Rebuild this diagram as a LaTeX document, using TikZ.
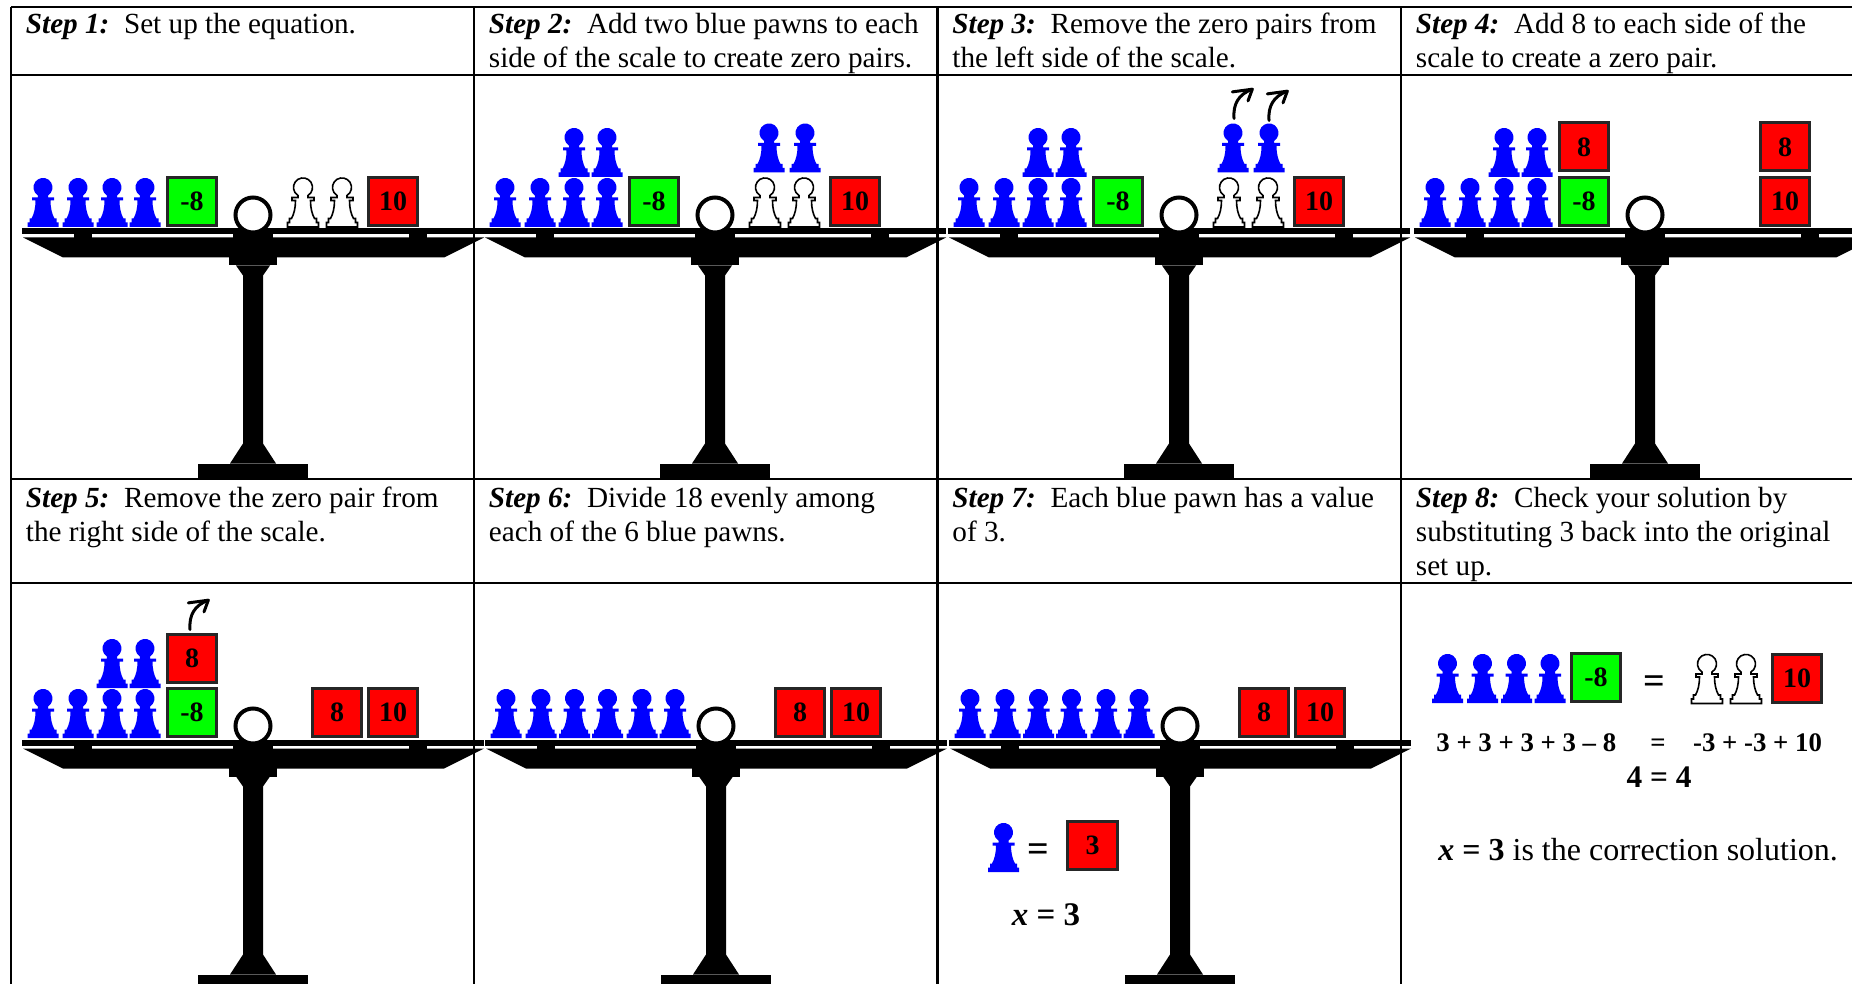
\documentclass[tikz,border=0pt]{standalone}
\usepackage{fontspec}
\setmainfont{Liberation Serif}
\usetikzlibrary{arrows.meta}

\definecolor{pawnblue}{RGB}{0,0,255}
\definecolor{tilegreen}{RGB}{0,255,0}
\definecolor{tilered}{RGB}{255,0,0}

\tikzset{
  grid/.style={line width=1.2pt},
  stephead/.style={anchor=base west, inner sep=0pt, font=\fontsize{14.6}{17}\selectfont},
  tile/.style={draw=black!85, line width=1.5pt, minimum width=24.8pt, minimum height=24pt,
    inner sep=0pt, font=\fontsize{14}{16}\selectfont\bfseries},
  greentile/.style={tile, fill=tilegreen},
  redtile/.style={tile, fill=tilered},
  bluepawn/.style={fill=pawnblue},
  whitepawn/.style={fill=white, draw=black, line width=0.8pt},
  eqtext/.style={inner sep=0pt, font=\fontsize{13.4}{16}\selectfont\bfseries},
  bigeq/.style={inner sep=0pt, font=\fontsize{19}{20}\selectfont\bfseries},
  % pawn silhouette, origin at the middle of its base
  pawnshape/.pic={
    \path[pic actions] (-15.5,0) -- (15.5,0) -- (15.5,-4.5) -- (13.5,-4.5) -- (13.5,-8.5) -- (11.5,-8.5)
      .. controls (9,-13) and (7.5,-19) .. (7.5,-26.5) -- (11,-26.5) -- (11,-29.5) -- (5,-29.5) -- (5,-31.5)
      arc[start angle=-58.2, end angle=238.2, radius=4.75pt] -- (-5,-29.5) -- (-11,-29.5) -- (-11,-26.5) -- (-7.5,-26.5)
      .. controls (-7.5,-19) and (-9,-13) .. (-11.5,-8.5) -- (-13.5,-8.5) -- (-13.5,-4.5) -- (-15.5,-4.5) -- cycle;
  },
  % balance scale, origin at the middle of the top of the beam
  balance/.pic={
    \fill (-231,0) rectangle (231,6);
    \fill (-179,5) rectangle (-161,10);
    \fill (156,5) rectangle (174,10);
    \fill (-20,5) rectangle (20,10);
    \fill (-230,9) -- (231,9) -- (191,29) -- (-190,29) -- cycle;
    \fill (-24,28) rectangle (24,37);
    \fill (-17,37) -- (17,37) -- (10,47) -- (10,215) -- (23,235) -- (-23,235) -- (-10,215) -- (-10,47) -- cycle;
    \fill (-55,235) rectangle (55,251);
    \draw[line width=2pt, fill=white] (0,-13.5) circle[radius=8.75pt];
  },
  % curved "take away" arrow, origin at its tail
  lift/.pic={
    \draw[line width=1.5pt, line cap=round, line join=round] (0,0) .. controls (-1,-14) and (4,-24) .. (18.3,-29.3);
    \draw[line width=1.5pt, line cap=round, line join=round] (-1.7,-26.6) -- (18.3,-29.3) -- (14,-17.6);
  },
}

\begin{document}
\begin{tikzpicture}[x=0.5pt,y=-0.5pt]
\useasboundingbox (0,0) rectangle (1852,984);

% ---------- step captions ----------
\node[stephead] (h1) at (25.5,34) {\bfseries\itshape Step 1:\hspace{0.5em}\normalfont Set up the equation.};
\node[stephead] (h2a) at (488.5,34) {\bfseries\itshape Step 2:\hspace{0.5em}\normalfont Add two blue pawns to each};
\node[stephead] (h2b) at (488.5,68) {side of the scale to create zero pairs.};
\node[stephead] (h3a) at (952,34) {\bfseries\itshape Step 3:\hspace{0.5em}\normalfont Remove the zero pairs from};
\node[stephead] (h3b) at (952,68) {the left side of the scale.};
\node[stephead] (h4a) at (1415.5,34) {\bfseries\itshape Step 4:\hspace{0.5em}\normalfont Add 8 to each side of the};
\node[stephead] (h4b) at (1415.5,68) {scale to create a zero pair.};

\node[stephead] (h5a) at (25.5,507) {\bfseries\itshape Step 5:\hspace{0.5em}\normalfont Remove the zero pair from};
\node[stephead] (h5b) at (25.5,541) {the right side of the scale.};
\node[stephead] (h6a) at (488.5,507) {\bfseries\itshape Step 6:\hspace{0.5em}\normalfont Divide 18 evenly among};
\node[stephead] (h6b) at (488.5,541) {each of the 6 blue pawns.};
\node[stephead] (h7a) at (952,507) {\bfseries\itshape Step 7:\hspace{0.5em}\normalfont Each blue pawn has a value};
\node[stephead] (h7b) at (952,541) {of 3.};
\node[stephead] (h8a) at (1415.5,507) {\bfseries\itshape Step 8:\hspace{0.5em}\normalfont Check your solution by};
\node[stephead] (h8b) at (1415.5,541) {substituting 3 back into the original};
\node[stephead] (h8c) at (1415.5,575) {set up.};

% ---------- step 1 ----------
\begin{scope}[shift={(253,228.5)}]
  \pic {balance};
  \foreach \px in {-210,-175,-141,-108} \pic[bluepawn] at (\px,-1.5) {pawnshape};
  \node[greentile] (s1g) at (-61,-27) {-8};
  \foreach \px in {50,89} \pic[whitepawn] at (\px,-1.5) {pawnshape};
  \node[redtile] (s1r) at (140,-27) {10};
\end{scope}

% ---------- step 2 ----------
\begin{scope}[shift={(715,228.5)}]
  \pic {balance};
  \foreach \px in {-210,-175,-141,-108} \pic[bluepawn] at (\px,-1.5) {pawnshape};
  \foreach \px in {-141,-108} \pic[bluepawn] at (\px,-51.5) {pawnshape};
  \node[greentile] (s2g) at (-61,-27) {-8};
  \foreach \px in {50,89} \pic[whitepawn] at (\px,-1.5) {pawnshape};
  \foreach \px in {54,90} \pic[bluepawn] at (\px,-56) {pawnshape};
  \node[redtile] (s2r) at (140,-27) {10};
\end{scope}

% ---------- step 3 ----------
\begin{scope}[shift={(1179,228.5)}]
  \pic {balance};
  \foreach \px in {-210,-175,-141,-108} \pic[bluepawn] at (\px,-1.5) {pawnshape};
  \foreach \px in {-141,-108} \pic[bluepawn] at (\px,-51.5) {pawnshape};
  \node[greentile] (s3g) at (-61,-27) {-8};
  \foreach \px in {50,89} \pic[whitepawn] at (\px,-1.5) {pawnshape};
  \foreach \px in {54,90} \pic[bluepawn] at (\px,-56) {pawnshape};
  \coordinate (s3lift1) at (55,-110);
  \coordinate (s3lift2) at (90,-108);
  \pic at (s3lift1) {lift};
  \pic at (s3lift2) {lift};
  \node[redtile] (s3r) at (140,-27) {10};
\end{scope}

% ---------- step 4 ----------
\begin{scope}[shift={(1645,228.5)}]
  \pic {balance};
  \foreach \px in {-210,-175,-141,-108} \pic[bluepawn] at (\px,-1.5) {pawnshape};
  \foreach \px in {-141,-108} \pic[bluepawn] at (\px,-51.5) {pawnshape};
  \node[greentile] (s4g) at (-61,-27) {-8};
  \node[redtile] (s4r8l) at (-61,-81.5) {8};
  \node[redtile] (s4r10) at (140,-27) {10};
  \node[redtile] (s4r8r) at (140,-81.5) {8};
\end{scope}

% ---------- step 5 ----------
\begin{scope}[shift={(253,739.5)}]
  \pic {balance};
  \foreach \px in {-210,-175,-141,-108} \pic[bluepawn] at (\px,-1.5) {pawnshape};
  \foreach \px in {-141,-108} \pic[bluepawn] at (\px,-51.5) {pawnshape};
  \node[greentile] (s5g) at (-61,-27) {-8};
  \node[redtile] (s5r8l) at (-61,-81.5) {8};
  \coordinate (s5lift) at (-63,-110);
  \pic at (s5lift) {lift};
  \node[redtile] (s5r8) at (84,-27) {8};
  \node[redtile] (s5r10) at (140,-27) {10};
\end{scope}

% ---------- step 6 ----------
\begin{scope}[shift={(716,739.5)}]
  \pic {balance};
  \foreach \px in {-210,-175,-141.5,-108.5,-74,-41} \pic[bluepawn] at (\px,-1.5) {pawnshape};
  \node[redtile] (s6r8) at (84,-27) {8};
  \node[redtile] (s6r10) at (140,-27) {10};
\end{scope}

% ---------- step 7 ----------
\begin{scope}[shift={(1180,739.5)}]
  \pic {balance};
  \foreach \px in {-210,-175,-141.5,-108.5,-74,-41} \pic[bluepawn] at (\px,-1.5) {pawnshape};
  \node[redtile] (s7r8) at (84,-27) {8};
  \node[redtile] (s7r10) at (140,-27) {10};
\end{scope}
\pic[bluepawn] at (1003.5,872) {pawnshape};
\node[bigeq] (s7eq) at (1038,853) {=};
\node[redtile] (s7three) at (1092.5,845) {3};
\node[inner sep=0pt, anchor=base, font=\fontsize{16.5}{18}\selectfont\bfseries] (s7x) at (1046,925) {\itshape x\upshape{} = 3};

% ---------- step 8 ----------
\foreach \px in {1447.5,1482.5,1516.5,1550} \pic[bluepawn] at (\px,703) {pawnshape};
\node[greentile] (s8g) at (1596,677.5) {-8};
\node[bigeq] (s8eq) at (1654,685) {=};
\foreach \px in {1707,1746} \pic[whitepawn] at (\px,703.5) {pawnshape};
\node[redtile] (s8r) at (1797,678.5) {10};
\node[eqtext, anchor=base west] (s8lhs) at (1436,751) {3 + 3 + 3 + 3 -- 8};
\node[eqtext, anchor=base] (s8mid) at (1658,751) {=};
\node[eqtext, anchor=base west] (s8rhs) at (1692.7,751) {-3 + -3 + 10};
\node[inner sep=0pt, anchor=base, font=\fontsize{15.7}{18}\selectfont\bfseries] (s8four) at (1659,787) {4 = 4};
\node[inner sep=0pt, anchor=base west, font=\fontsize{16}{19}\selectfont] (s8sol) at (1438,860)
  {\textbf{\textit{x} = 3} is the correction solution.};

% ---------- table rules ----------
\draw[grid] (11,7) -- (1852,7);
\draw[grid] (11,75) -- (1852,75);
\draw[grid] (11,479) -- (1852,479);
\draw[grid] (11,583) -- (1852,583);
\draw[grid] (11,7) -- (11,984);
\draw[grid] (474,7) -- (474,984);
\draw[grid] (937.5,7) -- (937.5,984);
\draw[grid] (1401,7) -- (1401,984);
\end{tikzpicture}
\end{document}
